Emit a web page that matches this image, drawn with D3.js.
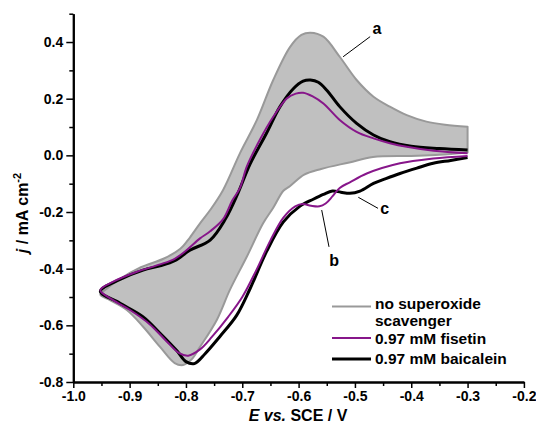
<!DOCTYPE html>
<html>
<head>
<meta charset="utf-8">
<script src="https://cdn.jsdelivr.net/npm/d3@7"></script>
<style>
body { margin: 0; background: #fff; }
svg { font-family: "Liberation Sans", Arial, sans-serif; font-weight: bold; }
</style>
</head>
<body>
<script>
//cyclic voltammograms, potential E (V vs SCE) and current density j (mA cm-2)
//each loop: cathodic branch from -0.3 V down to -0.95 V, then anodic branch back
var grayE = [-0.300, -0.350, -0.400, -0.468, -0.510, -0.560, -0.590, -0.615, -0.627, -0.645, -0.663, -0.692, -0.722, -0.745, -0.775, -0.790, -0.805, -0.820, -0.846, -0.876, -0.905, -0.935, -0.952,
    -0.940, -0.920, -0.880, -0.840, -0.810, -0.793, -0.775, -0.757, -0.734, -0.704, -0.674, -0.645, -0.615, -0.595, -0.579, -0.556, -0.527, -0.497, -0.467, -0.438, -0.408, -0.373, -0.340, -0.300];
var grayJ = [0.010, 0.002, -0.002, -0.006, -0.025, -0.048, -0.068, -0.108, -0.125, -0.185, -0.240, -0.358, -0.475, -0.580, -0.676, -0.720, -0.740, -0.733, -0.676, -0.605, -0.546, -0.511, -0.492,
    -0.470, -0.440, -0.395, -0.365, -0.330, -0.290, -0.240, -0.193, -0.122, 0.008, 0.125, 0.266, 0.383, 0.425, 0.433, 0.419, 0.348, 0.266, 0.207, 0.172, 0.142, 0.119, 0.108, 0.101];

var fisetinE = [-0.300, -0.361, -0.420, -0.479, -0.509, -0.527, -0.540, -0.552, -0.563, -0.578, -0.592, -0.606, -0.627, -0.650, -0.675, -0.700, -0.725, -0.754, -0.775, -0.796, -0.812, -0.835, -0.865, -0.900, -0.930, -0.952,
    -0.929, -0.887, -0.846, -0.820, -0.799, -0.775, -0.757, -0.734, -0.718, -0.704, -0.692, -0.669, -0.645, -0.621, -0.605, -0.592, -0.575, -0.556, -0.527, -0.497, -0.467, -0.438, -0.408, -0.360, -0.300];
var fisetinJ = [-0.002, -0.011, -0.028, -0.064, -0.095, -0.115, -0.145, -0.170, -0.180, -0.178, -0.172, -0.180, -0.220, -0.300, -0.405, -0.500, -0.570, -0.641, -0.685, -0.707, -0.698, -0.655, -0.595, -0.545, -0.510, -0.476,
    -0.446, -0.411, -0.385, -0.365, -0.335, -0.293, -0.268, -0.225, -0.160, -0.115, -0.040, 0.054, 0.136, 0.201, 0.218, 0.221, 0.208, 0.183, 0.125, 0.083, 0.060, 0.043, 0.030, 0.016, 0.007];

var baicaleinE = [-0.300, -0.330, -0.361, -0.390, -0.420, -0.445, -0.467, -0.491, -0.509, -0.525, -0.540, -0.556, -0.574, -0.598, -0.627, -0.657, -0.686, -0.710, -0.740, -0.766, -0.785, -0.800, -0.816, -0.846, -0.876, -0.917, -0.952,
    -0.917, -0.876, -0.846, -0.820, -0.793, -0.757, -0.730, -0.708, -0.686, -0.657, -0.633, -0.609, -0.592, -0.579, -0.565, -0.550, -0.527, -0.497, -0.467, -0.438, -0.400, -0.350, -0.300];
var baicaleinJ = [-0.008, -0.018, -0.028, -0.045, -0.064, -0.082, -0.099, -0.126, -0.134, -0.130, -0.126, -0.138, -0.155, -0.180, -0.235, -0.340, -0.470, -0.565, -0.640, -0.700, -0.735, -0.728, -0.690, -0.628, -0.570, -0.522, -0.480,
    -0.438, -0.405, -0.390, -0.372, -0.335, -0.299, -0.225, -0.135, -0.030, 0.078, 0.172, 0.236, 0.262, 0.266, 0.258, 0.230, 0.172, 0.113, 0.072, 0.048, 0.032, 0.024, 0.019];

//axis ticks
var xTicks = [-1.0, -0.9, -0.8, -0.7, -0.6, -0.5, -0.4, -0.3, -0.2];
var xMinor = [-0.95, -0.85, -0.75, -0.65, -0.55, -0.45, -0.35, -0.25];
var yTicks = [-0.8, -0.6, -0.4, -0.2, 0.0, 0.2, 0.4];
var yMinor = [-0.7, -0.5, -0.3, -0.1, 0.1, 0.3, 0.5];

//legend entries and curve labels
var legendNames = [["no superoxide", "scavenger"], ["0.97 mM fisetin"], ["0.97 mM baicalein"]];
var legendColors = ["#999999", "#87168a", "#000000"];
var curveLabels = ["a", "b", "c"];
//label leader lines in data units: [E1, j1, E2, j2, textE, textJ]
var labelLeaders = [
    [-0.521, 0.348, -0.473, 0.419, -0.461, 0.428],
    [-0.559, -0.193, -0.546, -0.323, -0.537, -0.391],
    [-0.494, -0.148, -0.459, -0.187, -0.447, -0.207]
];

var w = 536, h = 423;

var svg = d3.select("body")
    .append("svg")
    .attr("width", w)
    .attr("height", h);

//scales
var x = d3.scaleLinear()
    .domain([-1.0, -0.2])
    .range([73.3, 523.9]);

var y = d3.scaleLinear()
    .domain([-0.8, 0.5])
    .range([382, 13.7]);

function pairs(E, J) {
    return E.map(function (e, i) { return [e, J[i]]; });
}

var line = d3.line()
    .x(function (d) { return x(d[0]); })
    .y(function (d) { return y(d[1]); })
    .curve(d3.curveCatmullRom.alpha(0.5));

//no scavenger: filled loop
svg.append("path")
    .attr("d", line(pairs(grayE, grayJ)) + "Z")
    .style("fill", "#c0c0c0")
    .style("stroke", "#999999")
    .style("stroke-width", 2)
    .style("stroke-linejoin", "round");

//baicalein
svg.append("path")
    .attr("d", line(pairs(baicaleinE, baicaleinJ)))
    .style("fill", "none")
    .style("stroke", "#000")
    .style("stroke-width", 3)
    .style("stroke-linejoin", "round");

//fisetin
svg.append("path")
    .attr("d", line(pairs(fisetinE, fisetinJ)))
    .style("fill", "none")
    .style("stroke", legendColors[1])
    .style("stroke-width", 2)
    .style("stroke-linejoin", "round");

//axes
var fmt = function (d) { return d.toFixed(1); };

svg.append("g")
    .attr("transform", "translate(0," + y(-0.8) + ")")
    .call(d3.axisBottom(x).tickValues(xTicks).tickFormat(fmt).tickSize(6).tickSizeOuter(0).tickPadding(3));
svg.append("g")
    .attr("transform", "translate(0," + y(-0.8) + ")")
    .call(d3.axisBottom(x).tickValues(xMinor).tickFormat("").tickSize(4).tickSizeOuter(0));

svg.append("g")
    .attr("transform", "translate(" + x(-1.0) + ",0)")
    .call(d3.axisLeft(y).tickValues(yTicks).tickFormat(fmt).tickSize(7).tickSizeOuter(0).tickPadding(3));
svg.append("g")
    .attr("transform", "translate(" + x(-1.0) + ",0)")
    .call(d3.axisLeft(y).tickValues(yMinor).tickFormat("").tickSize(4).tickSizeOuter(0));

svg.selectAll(".domain").style("stroke", "#000").style("stroke-width", 2);
svg.selectAll(".tick line").style("stroke", "#000").style("stroke-width", 1.5);
svg.selectAll(".tick text")
    .style("font-family", "'Liberation Sans', Arial, sans-serif")
    .style("font-weight", "bold")
    .style("font-size", "14px")
    .style("fill", "#000");

//axis titles
var xTitle = svg.append("text")
    .attr("x", 298)
    .attr("y", 421)
    .attr("text-anchor", "middle")
    .style("font-size", "16px");
xTitle.append("tspan").style("font-style", "italic").text("E vs.");
xTitle.append("tspan").text(" SCE / V");

var yTitle = svg.append("text")
    .attr("transform", "translate(28,213) rotate(-90)")
    .attr("text-anchor", "middle")
    .style("font-size", "16px");
yTitle.append("tspan").style("font-style", "italic").text("j");
yTitle.append("tspan").text(" / mA cm");
yTitle.append("tspan").attr("dy", -7).style("font-size", "11px").text("-2");

//curve labels with leader lines
labelLeaders.forEach(function (d, i) {
    svg.append("line")
        .attr("x1", x(d[0])).attr("y1", y(d[1]))
        .attr("x2", x(d[2])).attr("y2", y(d[3]))
        .style("stroke", "#000")
        .style("stroke-width", 1);
    svg.append("text")
        .attr("x", x(d[4]))
        .attr("y", y(d[5]))
        .attr("text-anchor", "middle")
        .style("font-size", "16px")
        .text(curveLabels[i]);
});

//legend
var legendY = [306.5, 338, 359];
var legendBase = [[309, 326], [344], [364]];
legendNames.forEach(function (names, i) {
    svg.append("line")
        .attr("x1", 332).attr("x2", 371)
        .attr("y1", legendY[i]).attr("y2", legendY[i])
        .style("stroke", legendColors[i])
        .style("stroke-width", i === 2 ? 3 : 2);
    names.forEach(function (n, k) {
        svg.append("text")
            .attr("x", 375)
            .attr("y", legendBase[i][k])
            .style("font-size", "15.5px")
            .text(n);
    });
});
</script>
</body>
</html>
